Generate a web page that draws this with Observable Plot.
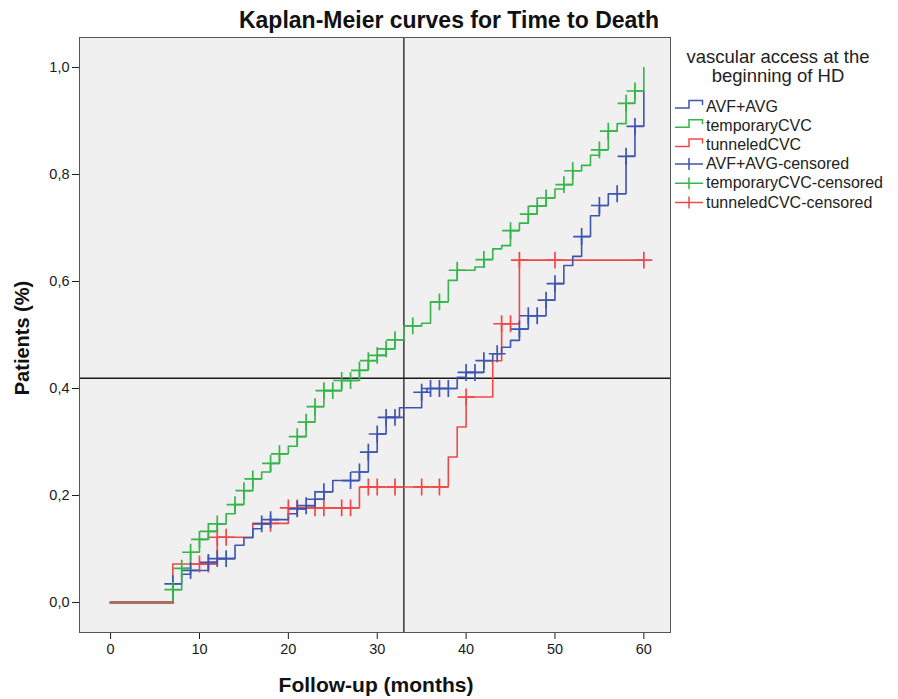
<!DOCTYPE html>
<html><head><meta charset="utf-8">
<script src="https://cdn.jsdelivr.net/npm/d3@7"></script>
<script src="https://cdn.jsdelivr.net/npm/@observablehq/plot@0.6"></script>
<style>body{margin:0;background:#fff} svg{display:block}</style>
</head><body><div id="chart"></div>
<script>
// ---- data ----
const seriesNames = ["AVF+AVG", "temporaryCVC", "tunneledCVC"];
const seriesColors = ["#3d55b0", "#35b54a", "#f04848"];
const startSegment = [0, 7]; // all curves at 0 before month 7

const avfTimes = [7, 8, 9, 11, 12, 14, 15, 16, 17, 18, 20, 21, 22, 23, 24, 25, 28, 29, 30, 31, 32.5, 35, 35.6, 39, 40, 42, 43, 44, 45, 46, 47, 49, 50, 51, 52, 53, 54, 55, 56, 58, 59, 60];
const avfValues = [0.035, 0.053, 0.060, 0.075, 0.082, 0.107, 0.121, 0.138, 0.147, 0.155, 0.166, 0.175, 0.181, 0.193, 0.207, 0.228, 0.244, 0.281, 0.315, 0.346, 0.364, 0.393, 0.400, 0.421, 0.430, 0.452, 0.465, 0.477, 0.490, 0.511, 0.536, 0.565, 0.596, 0.630, 0.647, 0.684, 0.723, 0.742, 0.764, 0.834, 0.890, 0.955];
const avfCensored = [7, 9, 11, 12, 13, 17, 18, 21, 22, 23, 24, 27, 28, 29, 30, 31, 32, 35, 36, 37, 38, 40, 41, 42, 43.5, 46, 47, 48, 49, 50, 53, 55, 57, 58, 59];

const tempTimes = [7, 8, 9, 10, 11, 12, 13, 14, 15, 16, 17, 18, 19, 20, 21, 22, 23, 24, 26, 28, 29, 30, 31, 32, 33, 35, 36, 38, 39, 41, 42, 43, 44, 45, 46, 47, 48, 49, 50, 51, 52, 53, 54, 55, 56, 57, 58, 59, 60];
const tempValues = [0.024, 0.064, 0.094, 0.118, 0.133, 0.147, 0.166, 0.183, 0.209, 0.231, 0.244, 0.260, 0.278, 0.292, 0.310, 0.337, 0.366, 0.396, 0.415, 0.434, 0.452, 0.462, 0.474, 0.491, 0.517, 0.522, 0.562, 0.602, 0.621, 0.627, 0.641, 0.661, 0.667, 0.695, 0.709, 0.726, 0.741, 0.756, 0.773, 0.781, 0.807, 0.817, 0.836, 0.846, 0.881, 0.895, 0.933, 0.956, 1.0];
const tempCensored = [7, 8, 9, 10, 11, 12, 14, 15, 16, 18, 19, 21, 22, 23, 24, 25, 26, 27, 28, 29, 30, 31, 32, 34, 37, 39, 42, 45, 47, 48, 49, 51, 52, 55, 56, 58, 59];

const tunTimes = [7, 12, 16, 20, 28, 38, 39, 40, 43, 44, 46, 60];
const tunValues = [0.072, 0.122, 0.148, 0.177, 0.216, 0.272, 0.328, 0.384, 0.452, 0.521, 0.640, 0.640];
const tunCensored = [10, 11, 12, 13, 18, 20, 21, 23, 24, 26, 27, 29, 30, 32, 35, 37, 40, 44, 45, 46, 50, 60];

const xTicks = [0, 10, 20, 30, 40, 50, 60];
const yTicks = [0, 0.2, 0.4, 0.6, 0.8, 1.0];
const refTime = 33;
const refValue = 0.419;

// ---- build tables ----
function stepRows(name, times, values) {
  return [{t: 0, v: 0, name}, ...times.map((t, i) => ({t, v: values[i], name}))];
}
function valueAt(times, values, t) {
  let v = 0;
  times.forEach((s, i) => { if (s <= t) v = values[i]; });
  return v;
}
function censorRows(name, times, values, cens) {
  return cens.map(t => ({t, v: valueAt(times, values, t), name}));
}
const curves = [
  stepRows(seriesNames[0], avfTimes, avfValues),
  stepRows(seriesNames[1], tempTimes, tempValues),
  stepRows(seriesNames[2], tunTimes, tunValues)
];
const censors = [
  censorRows(seriesNames[0], avfTimes, avfValues, avfCensored),
  censorRows(seriesNames[1], tempTimes, tempValues, tempCensored),
  censorRows(seriesNames[2], tunTimes, tunValues, tunCensored)
];
const startRows = startSegment.map(t => ({t, v: 0}));

const font = "'Liberation Sans', Arial, sans-serif";
const order = [2, 0, 1];

const plot = Plot.plot({
  width: 898, height: 699,
  marginLeft: 79, marginRight: 228, marginTop: 37, marginBottom: 67,
  style: {fontFamily: font, fontSize: "14.5px", color: "#1a1a1a", background: "#ffffff"},
  x: {domain: [-3.5, 63], ticks: xTicks, tickSize: 7, tickPadding: 4, label: null},
  y: {domain: [-0.056, 1.056], ticks: yTicks, tickSize: 7, tickPadding: 3, label: null,
      tickFormat: d => d.toFixed(1).replace(".", ",")},
  marks: [
    Plot.frame({fill: "#f0f0f0"}),
    Plot.ruleX([refTime], {stroke: "#1a1a1a", strokeWidth: 1.3}),
    Plot.ruleY([refValue], {stroke: "#1a1a1a", strokeWidth: 1.5}),
    ...order.map(i => Plot.line(curves[i], {x: "t", y: "v", curve: "step-after",
      stroke: seriesColors[i], strokeWidth: 1.6})),
    Plot.line(startRows, {x: "t", y: "v", stroke: "#a8705e", strokeWidth: 3}),
    ...order.map(i => Plot.dot(censors[i], {x: "t", y: "v", symbol: "plus", r: 5.5,
      stroke: seriesColors[i], strokeWidth: 1.7})),
    Plot.frame({stroke: "#555555"})
  ]
});
document.getElementById("chart").appendChild(plot);

// ---- titles and legend ----
const svg = d3.select(plot);
svg.append("text").attr("x", 449).attr("y", 28).attr("text-anchor", "middle")
  .attr("font-family", font).attr("font-weight", "bold").attr("font-size", 23).attr("fill", "#111")
  .text("Kaplan-Meier curves for Time to Death");
svg.append("text").attr("x", 376).attr("y", 692).attr("text-anchor", "middle")
  .attr("font-family", font).attr("font-weight", "bold").attr("font-size", 21).attr("fill", "#111")
  .text("Follow-up (months)");
svg.append("text").attr("transform", "translate(29,338) rotate(-90)").attr("text-anchor", "middle")
  .attr("font-family", font).attr("font-weight", "bold").attr("font-size", 20).attr("fill", "#111")
  .text("Patients (%)");

const lg = svg.append("g").attr("font-family", font).attr("fill", "#222");
lg.append("text").attr("x", 778).attr("y", 63).attr("text-anchor", "middle").attr("font-size", 18.5)
  .text("vascular access at the");
lg.append("text").attr("x", 778).attr("y", 82).attr("text-anchor", "middle").attr("font-size", 18.5)
  .text("beginning of HD");
const legendItems = [
  ...seriesNames.map((n, i) => ({label: n, color: seriesColors[i], censored: false})),
  ...seriesNames.map((n, i) => ({label: n + "-censored", color: seriesColors[i], censored: true}))
];
legendItems.forEach((d, k) => {
  const b = 111.5 + k * 19.2;
  if (d.censored) {
    lg.append("path").attr("d", `M675,${b - 5}H703M689,${b - 11}V${b + 1}`)
      .attr("fill", "none").attr("stroke", d.color).attr("stroke-width", 1.5);
  } else {
    lg.append("path").attr("d", `M675,${b - 3.5}H689V${b - 11}H702.5V${b - 6.5}`)
      .attr("fill", "none").attr("stroke", d.color).attr("stroke-width", 1.5);
  }
  lg.append("text").attr("x", 706).attr("y", b).attr("text-anchor", "start")
    .attr("font-size", 16).text(d.label);
});
</script>
</body></html>
